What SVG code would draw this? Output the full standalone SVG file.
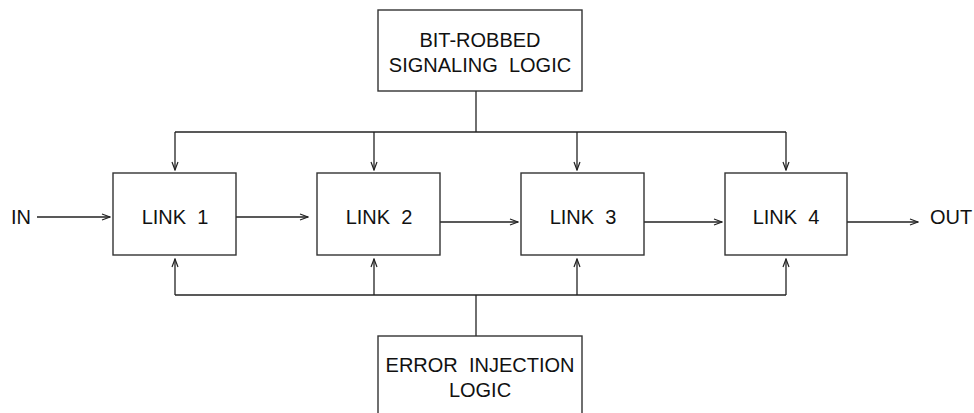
<svg xmlns="http://www.w3.org/2000/svg" width="974" height="413" viewBox="0 0 974 413">
<style>
.box{fill:#fff;stroke:#333;stroke-width:1.4}
.ln{fill:none;stroke:#222;stroke-width:1.3}
.t{font-family:"Liberation Sans",Arial,sans-serif;font-size:20px;fill:#111;text-anchor:middle}
</style>
<defs>
<marker id="a" markerWidth="10" markerHeight="8" refX="9" refY="4" orient="auto" markerUnits="userSpaceOnUse">
<path d="M1,1 L9,4 L1,7" fill="none" stroke="#222" stroke-width="1.2"/>
</marker>
</defs>
<rect width="974" height="413" fill="#fff"/>
<g id="connectors">
<line class="ln" x1="476" y1="91" x2="476" y2="132"/>
<line class="ln" x1="175" y1="132" x2="786" y2="132"/>
<line class="ln" x1="175" y1="132" x2="175" y2="170" marker-end="url(#a)"/>
<line class="ln" x1="374" y1="132" x2="374" y2="170" marker-end="url(#a)"/>
<line class="ln" x1="577" y1="132" x2="577" y2="170" marker-end="url(#a)"/>
<line class="ln" x1="786" y1="132" x2="786" y2="170" marker-end="url(#a)"/>
<line class="ln" x1="476" y1="336" x2="476" y2="295"/>
<line class="ln" x1="175" y1="295" x2="786" y2="295"/>
<line class="ln" x1="175" y1="295" x2="175" y2="259" marker-end="url(#a)"/>
<line class="ln" x1="374" y1="295" x2="374" y2="259" marker-end="url(#a)"/>
<line class="ln" x1="577" y1="295" x2="577" y2="259" marker-end="url(#a)"/>
<line class="ln" x1="786" y1="295" x2="786" y2="259" marker-end="url(#a)"/>
<line class="ln" x1="37" y1="217" x2="110" y2="217" marker-end="url(#a)"/>
<line class="ln" x1="236" y1="217" x2="308" y2="217" marker-end="url(#a)"/>
<line class="ln" x1="440" y1="222" x2="518" y2="222" marker-end="url(#a)"/>
<line class="ln" x1="644" y1="222" x2="722" y2="222" marker-end="url(#a)"/>
<line class="ln" x1="847" y1="222" x2="918" y2="222" marker-end="url(#a)"/>
</g>
<g id="bit-robbed">
<rect class="box" x="378" y="10" width="204" height="81"/>
<text class="t" x="480" y="47">BIT-ROBBED</text>
<text class="t" x="480" y="72" xml:space="preserve">SIGNALING  LOGIC</text>
</g>
<g id="link1">
<rect class="box" x="113" y="173" width="123" height="82"/>
<text class="t" x="175" y="224" xml:space="preserve">LINK  1</text>
</g>
<g id="link2">
<rect class="box" x="317" y="173" width="123" height="82"/>
<text class="t" x="379" y="224" xml:space="preserve">LINK  2</text>
</g>
<g id="link3">
<rect class="box" x="521" y="173" width="123" height="82"/>
<text class="t" x="583" y="224" xml:space="preserve">LINK  3</text>
</g>
<g id="link4">
<rect class="box" x="725" y="173" width="122" height="82"/>
<text class="t" x="786" y="224" xml:space="preserve">LINK  4</text>
</g>
<g id="error-injection">
<rect class="box" x="378" y="336" width="204" height="90"/>
<text class="t" x="480" y="372" xml:space="preserve">ERROR  INJECTION</text>
<text class="t" x="480" y="397">LOGIC</text>
</g>
<g id="io">
<text class="t" x="21" y="224">IN</text>
<text class="t" x="951" y="224" font-size="20.5">OUT</text>
</g>
</svg>
